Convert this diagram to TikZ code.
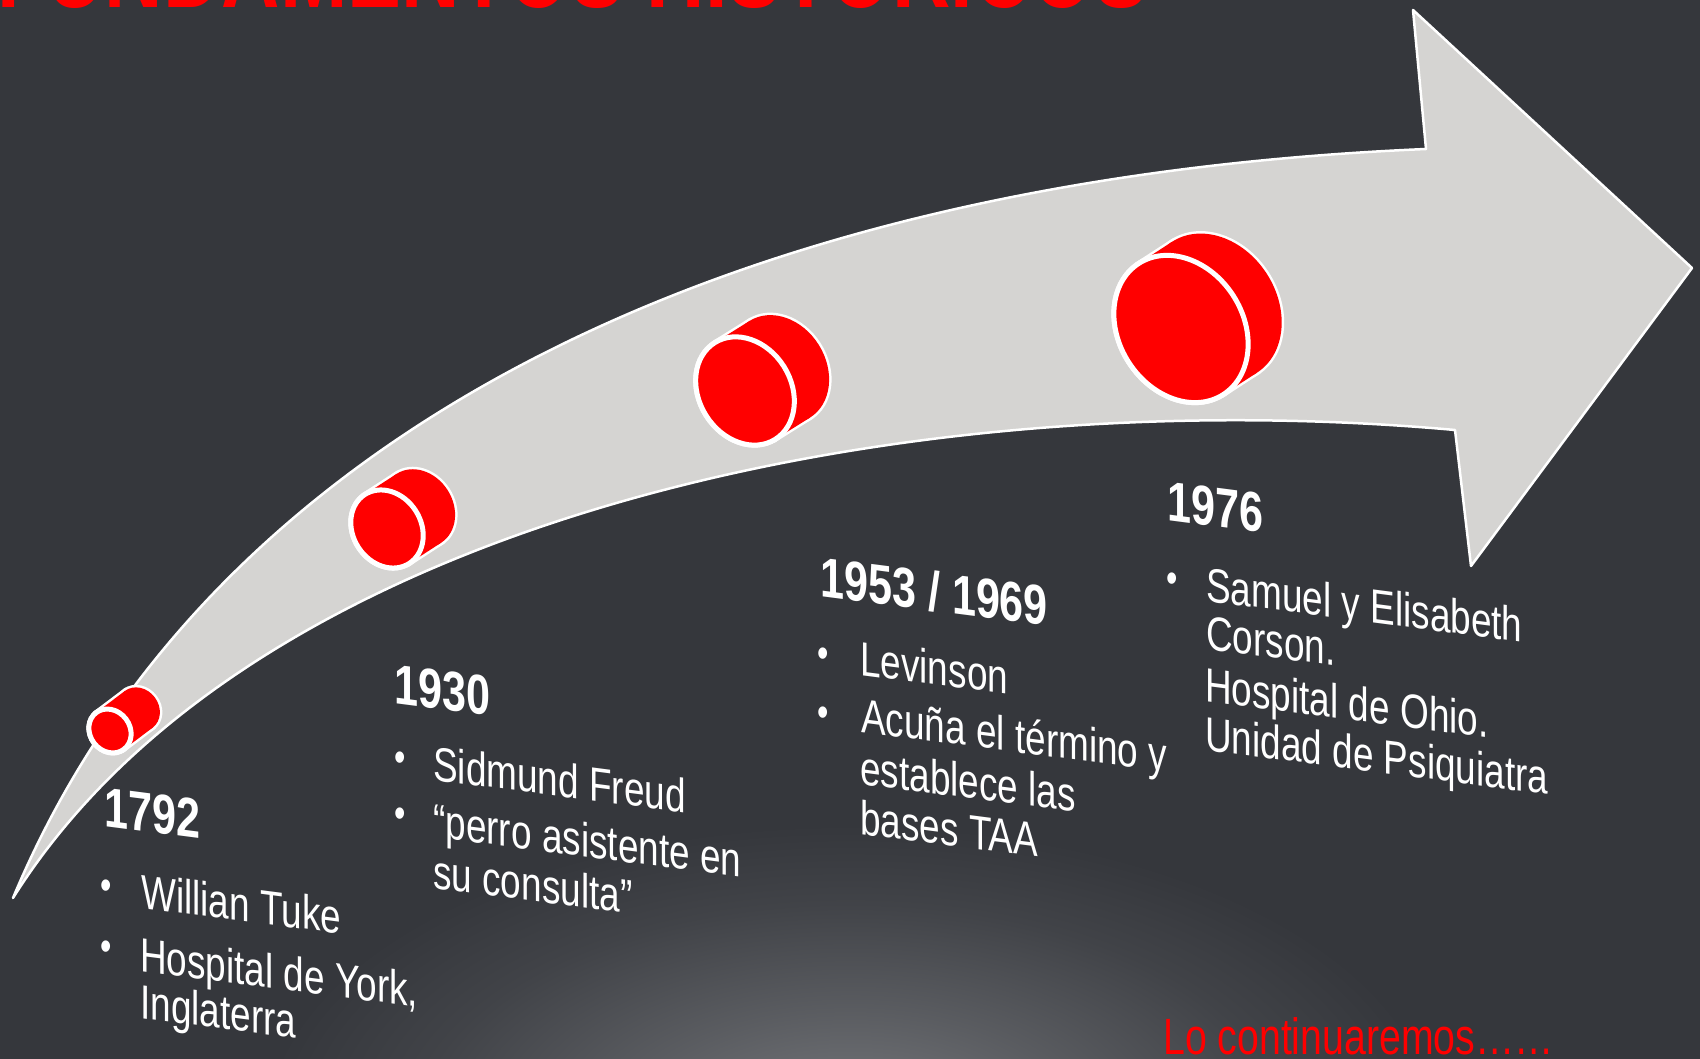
\documentclass[tikz,border=0pt]{standalone}
\usepackage{fontspec}
\setmainfont{Liberation Sans}
\newfontfamily\narrowfont{Liberation Sans}[FakeStretch=0.77]
\definecolor{bgc}{RGB}{53,55,60}
\definecolor{glowc}{RGB}{120,122,126}
\definecolor{arrowc}{RGB}{213,212,210}
\definecolor{cylred}{RGB}{255,0,0}
\pgfdeclareradialshading{glowshade}{\pgfpoint{0bp}{0bp}}{color(0bp)=(glowc); color(9bp)=(glowc!55!bgc); color(17bp)=(glowc!18!bgc); color(23bp)=(bgc); color(50bp)=(bgc)}
\newcommand\redcyl[6]{% cx cy theta a b d
\begin{scope}[shift={(#1,#2)},rotate=#3]
 \path[fill=white,draw=white,line width=5pt] (0,0) ellipse [x radius=#5pt, y radius=#4pt];
 \path[fill=white,draw=white,line width=5pt] (#6,0) ellipse [x radius=#5pt, y radius=#4pt];
 \path[fill=white,draw=white,line width=5pt] (0,-#4) rectangle (#6,#4);
 \fill[cylred] (#6,0) ellipse [x radius=#5pt, y radius=#4pt];
 \fill[cylred] (0,-#4) rectangle (#6,#4);
 \path[fill=cylred,draw=white,line width=5pt] (0,0) ellipse [x radius=#5pt, y radius=#4pt];
\end{scope}}
\tikzset{
 yearlbl/.style={text=white, font=\narrowfont\bfseries\fontsize{56pt}{60pt}\selectfont, anchor=base west, inner sep=0pt, yslant=-0.13},
 bodylbl/.style={text=white, font=\narrowfont\fontsize{48pt}{50pt}\selectfont, anchor=base west, inner sep=0pt, yslant=-0.13},
 bulletlbl/.style={text=white, font=\narrowfont\fontsize{42pt}{44pt}\selectfont, anchor=base west, inner sep=0pt},
 arrowshape/.style={fill=arrowc, draw=white, line width=2.5pt, line join=round},
}
\begin{document}
\begin{tikzpicture}[x=1pt,y=1pt]
\useasboundingbox (0,0) rectangle (1700,1058);
\clip (-5,-5) rectangle (1705,1063);
\fill[bgc] (-5,-5) rectangle (1705,1063);
\shade[shading=glowshade] (850,-70) ellipse [x radius=640pt, y radius=330pt];
% arrow
\path[arrowshape] (13,160) .. controls (200,608) and (700,878) .. (1426,909)
  -- (1413,1048) -- (1692,790) -- (1471,492) -- (1455,628)
  .. controls (900,678) and (250,538) .. (13,160) -- cycle;
% cylinders
\redcyl{110}{327}{37}{23}{20}{36}
\redcyl{387}{529}{33}{41}{34}{38}
\redcyl{745}{667}{32}{57}{46}{41}
\redcyl{1181}{729}{33}{78}{62}{40}
% title
\node[text=red, font=\narrowfont\bfseries\fontsize{105pt}{110pt}\selectfont, anchor=base west, inner sep=0pt] (title) at (-3,1050) {FUNDAMENTOS HISTORICOS};
% block 1
\node[yearlbl] (y1) at (104,232) {1792};
\node[bulletlbl] (b1a) at (100,158) {•};
\node[bodylbl] (t1a) at (141,150) {Willian Tuke};
\node[bulletlbl] (b1b) at (100,98) {•};
\node[bodylbl] (t1b) at (140,87) {Hospital de York,};
\node[bodylbl] (t1c) at (140,40) {Inglaterra};
% block 2
\node[yearlbl] (y2) at (394,355) {1930};
\node[bulletlbl] (b2a) at (394,286) {•};
\node[bodylbl] (t2a) at (433,278) {Sidmund Freud};
\node[bulletlbl] (b2b) at (394,230) {•};
\node[bodylbl] (t2b) at (433,221) {“perro asistente en};
\node[bodylbl] (t2c) at (433,170) {su consulta”};
% block 3
\node[yearlbl] (y3) at (820,462) {1953 / 1969};
\node[bulletlbl] (b3a) at (817,390) {•};
\node[bodylbl] (t3a) at (860,383) {Levinson};
\node[bulletlbl] (b3b) at (817,331) {•};
\node[bodylbl] (t3b) at (861,326) {Acuña el término y};
\node[bodylbl] (t3c) at (860,274) {establece las};
\node[bodylbl] (t3d) at (860,224) {bases TAA};
% block 4
\node[yearlbl] (y4) at (1167,538) {1976};
\node[bulletlbl] (b4a) at (1166,465) {•};
\node[bodylbl] (t4a) at (1206,457) {Samuel y Elisabeth};
\node[bodylbl] (t4b) at (1206,409) {Corson.};
\node[bodylbl] (t4c) at (1205,357) {Hospital de Ohio.};
\node[bodylbl] (t4d) at (1205,308) {Unidad de Psiquiatra};
% footer
\node[text=red, font=\narrowfont\fontsize{51pt}{54pt}\selectfont, anchor=base west, inner sep=0pt] (cont) at (1163,4) {Lo continuaremos……};
\end{tikzpicture}
\end{document}
